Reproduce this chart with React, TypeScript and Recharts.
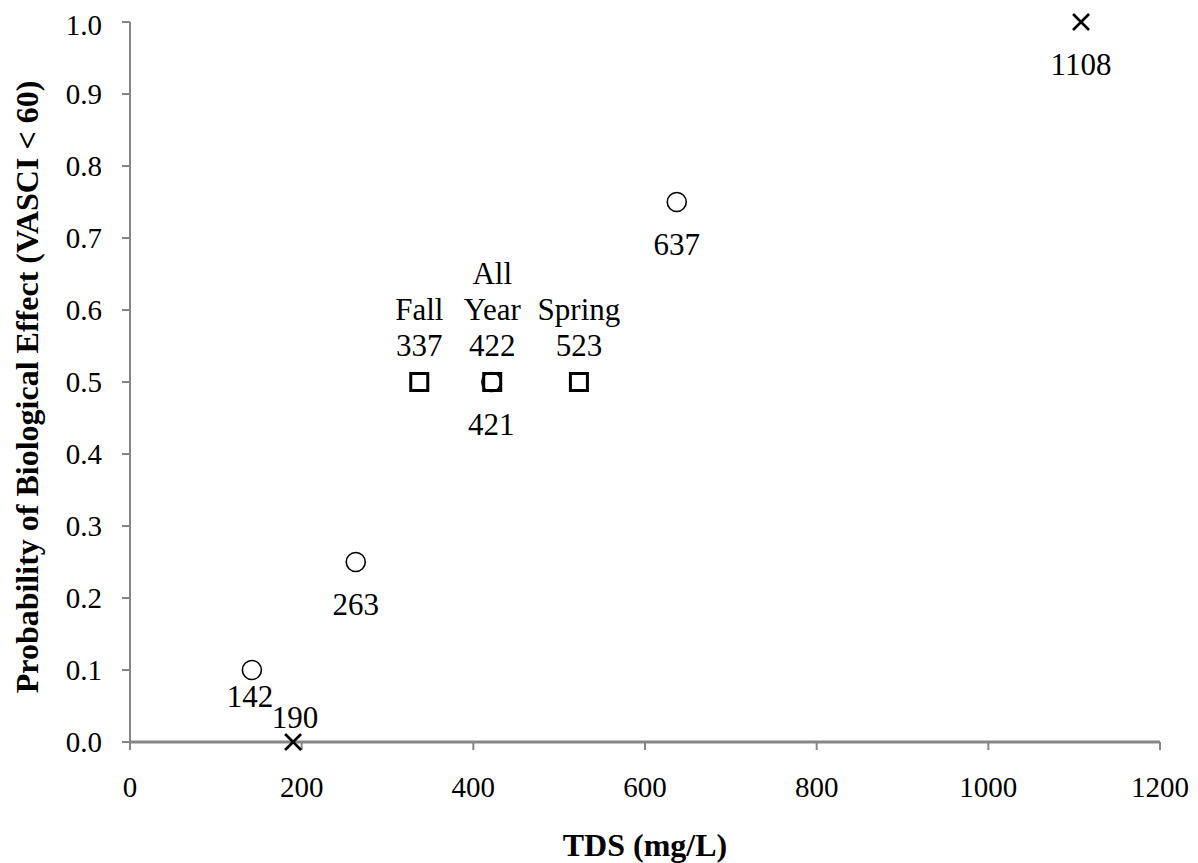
import React from 'react';
import { ScatterChart, Scatter, XAxis, YAxis, Label } from 'recharts';

// TDS thresholds (mg/L) vs probability of biological effect
const circleTds = [142, 263, 421, 637];
const circleProb = [0.1, 0.25, 0.5, 0.75];

const crossTds = [190, 1108];
const crossProb = [0, 1];

const squareTds = [337, 422, 523];
const squareProb = [0.5, 0.5, 0.5];
const squareNames = [['Fall'], ['All', 'Year'], ['Spring']];

const xTicks = [0, 200, 400, 600, 800, 1000, 1200];
const yTicks = [0, 0.1, 0.2, 0.3, 0.4, 0.5, 0.6, 0.7, 0.8, 0.9, 1.0];

const FONT = '"Liberation Serif", "Times New Roman", serif';
const FS = 31;
const TITLE_FS = 32;
const TICK_FS = 29;
const AXIS = '#868686';

const circleData = circleTds.map((x, i) => ({ x, y: circleProb[i], lines: [String(x)] }));
const crossData = crossTds.map((x, i) => ({ x, y: crossProb[i], lines: [String(x)] }));
const squareData = squareTds.map((x, i) => ({ x, y: squareProb[i], lines: [...squareNames[i], String(x)] }));

// label offset relative to marker (by tds value); default is below
const labelShift: Record<number, [number, number]> = {
  142: [-2, 26],
  190: [2, -25],
};

const drawLabel = (cx: number, cy: number, lines: string[], x: number, above: boolean) => {
  const [dx, dy] = labelShift[x] ?? [0, above ? -37 : 42];
  const lh = 36;
  return lines.map((t, i) => {
    const yy = above ? cy + dy - (lines.length - 1 - i) * lh : cy + dy + i * lh;
    return (
      <text key={i} x={cx + dx} y={yy} textAnchor="middle" dominantBaseline="central"
        fontFamily={FONT} fontSize={FS} fill="#000">{t}</text>
    );
  });
};

const CircleShape = (p: any) => (
  <g>
    <circle cx={p.cx} cy={p.cy} r={9.5} fill="none" stroke="#000" strokeWidth={1.6} />
    {drawLabel(p.cx, p.cy, p.payload.lines, p.payload.x, false)}
  </g>
);

const CrossShape = (p: any) => (
  <g>
    <path d={`M${p.cx - 8},${p.cy - 8}L${p.cx + 8},${p.cy + 8}M${p.cx - 8},${p.cy + 8}L${p.cx + 8},${p.cy - 8}`}
      stroke="#000" strokeWidth={2.6} />
    {drawLabel(p.cx, p.cy, p.payload.lines, p.payload.x, false)}
  </g>
);

const SquareShape = (p: any) => (
  <g>
    <rect x={p.cx - 8.5} y={p.cy - 8.5} width={17} height={17} fill="none" stroke="#000" strokeWidth={3} />
    {drawLabel(p.cx, p.cy, p.payload.lines, p.payload.x, true)}
  </g>
);

export default function App() {
  return (
    <ScatterChart width={1182} height={855} margin={{ top: 14, right: 30, left: 0, bottom: 0 }}>
      <XAxis type="number" dataKey="x" domain={[0, 1200]} ticks={xTicks} height={121}
        axisLine={{ stroke: AXIS, strokeWidth: 3 }} tickLine={{ stroke: AXIS, strokeWidth: 2 }}
        tickSize={8} tickMargin={26}
        tick={{ fill: '#000', fontFamily: FONT, fontSize: TICK_FS }}>
        <Label content={() => (
          <text x={637} y={837} textAnchor="middle" dominantBaseline="central"
            fontFamily={FONT} fontSize={TITLE_FS} fontWeight="bold" fill="#000">TDS (mg/L)</text>
        )} />
      </XAxis>
      <YAxis type="number" dataKey="y" domain={[0, 1]} ticks={yTicks} width={122}
        tickFormatter={(v: number) => v.toFixed(1)}
        axisLine={{ stroke: AXIS, strokeWidth: 2 }} tickLine={{ stroke: AXIS, strokeWidth: 2 }}
        tickSize={8} tickMargin={20}
        tick={{ fill: '#000', fontFamily: FONT, fontSize: TICK_FS }}>
        <Label content={() => (
          <text x={19} y={379} transform="rotate(-90 19 379)" textAnchor="middle" dominantBaseline="central"
            fontFamily={FONT} fontSize={TITLE_FS} fontWeight="bold" fill="#000">
            Probability of Biological Effect (VASCI &lt; 60)
          </text>
        )} />
      </YAxis>
      <Scatter data={circleData} shape={CircleShape} isAnimationActive={false} />
      <Scatter data={squareData} shape={SquareShape} isAnimationActive={false} />
      <Scatter data={crossData} shape={CrossShape} isAnimationActive={false} />
    </ScatterChart>
  );
}
